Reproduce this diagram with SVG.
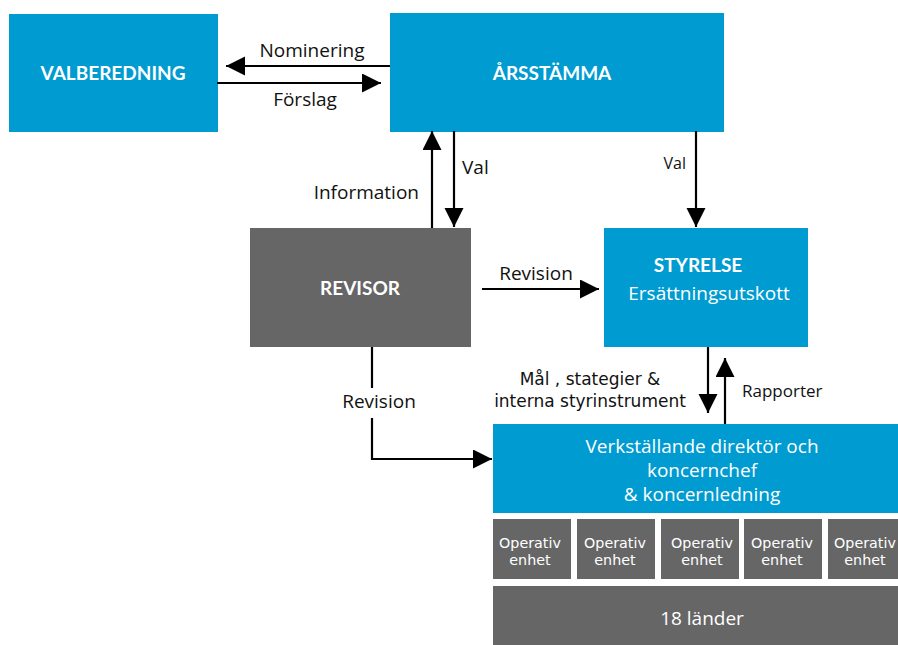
<svg xmlns="http://www.w3.org/2000/svg" width="898" height="645" viewBox="0 0 898 645">
<style>
.blue{fill:#009bd0}
.gray{fill:#666666}
.title{font-family:Lato,"Open Sans","Liberation Sans",sans-serif;font-weight:bold;font-size:19px;fill:#ffffff;text-anchor:middle}
.wt{font-family:"Open Sans",Lato,"Liberation Sans",sans-serif;font-size:19px;fill:#ffffff;text-anchor:middle}
.small{font-family:"DejaVu Sans","Open Sans","Liberation Sans",sans-serif;font-size:14.3px;fill:#ffffff;text-anchor:middle}
.lbl{font-family:"Open Sans",Lato,"Liberation Sans",sans-serif;font-size:19px;fill:#111111}
.lbl2{font-family:"DejaVu Sans","Open Sans","Liberation Sans",sans-serif;font-size:17px;fill:#111111;text-anchor:middle}
.con{stroke:#000000;stroke-width:2.2;fill:none}
</style>
<defs>
<marker id="ah" markerUnits="userSpaceOnUse" markerWidth="20" markerHeight="20" refX="19" refY="9.5" orient="auto">
<path d="M0,0 L19,9.5 L0,19 Z" fill="#000000"/>
</marker>
</defs>
<g id="valberedning">
<rect class="blue" x="9" y="14" width="209" height="118"/>
<text class="title" x="113" y="80">VALBEREDNING</text>
</g>
<g id="arsstamma">
<rect class="blue" x="390" y="13" width="334" height="119"/>
<text class="title" x="552" y="80">ÅRSSTÄMMA</text>
</g>
<g id="revisor">
<rect class="gray" x="250" y="228" width="221" height="119"/>
<text class="title" x="360" y="295">REVISOR</text>
</g>
<g id="styrelse">
<rect class="blue" x="604" y="228" width="204" height="119"/>
<text class="title" x="698" y="272">STYRELSE</text>
<text class="wt" x="709" y="300">Ersättningsutskott</text>
</g>
<g id="vd">
<rect class="blue" x="493" y="424" width="405" height="89"/>
<text class="wt" x="702" y="453">Verkställande direktör och<tspan x="702" dy="24">koncernchef</tspan><tspan x="702" dy="24">&amp; koncernledning</tspan></text>
</g>
<g id="operativ1">
<rect class="gray" x="493" y="519" width="78" height="60"/>
<text class="small" x="530" y="548">Operativ<tspan x="530" dy="17">enhet</tspan></text>
</g>
<g id="operativ2">
<rect class="gray" x="577" y="519" width="78" height="60"/>
<text class="small" x="615" y="548">Operativ<tspan x="615" dy="17">enhet</tspan></text>
</g>
<g id="operativ3">
<rect class="gray" x="661" y="519" width="78" height="60"/>
<text class="small" x="702" y="548">Operativ<tspan x="702" dy="17">enhet</tspan></text>
</g>
<g id="operativ4">
<rect class="gray" x="744" y="519" width="78" height="60"/>
<text class="small" x="782" y="548">Operativ<tspan x="782" dy="17">enhet</tspan></text>
</g>
<g id="operativ5">
<rect class="gray" x="828" y="519" width="78" height="60"/>
<text class="small" x="865" y="548">Operativ<tspan x="865" dy="17">enhet</tspan></text>
</g>
<g id="lander">
<rect class="gray" x="493" y="586" width="405" height="59"/>
<text class="wt" x="702" y="625">18 länder</text>
</g>
<g id="connectors">
<line class="con" x1="390" y1="66" x2="226" y2="66" marker-end="url(#ah)"/>
<line class="con" x1="217" y1="83" x2="381" y2="83" marker-end="url(#ah)"/>
<line class="con" x1="432" y1="228" x2="432" y2="131" marker-end="url(#ah)"/>
<line class="con" x1="454" y1="131" x2="454" y2="227" marker-end="url(#ah)"/>
<line class="con" x1="696" y1="131" x2="696" y2="227" marker-end="url(#ah)"/>
<line class="con" x1="482" y1="289" x2="599" y2="289" marker-end="url(#ah)"/>
<line class="con" x1="708" y1="347" x2="708" y2="413" marker-end="url(#ah)"/>
<line class="con" x1="725" y1="424" x2="725" y2="358" marker-end="url(#ah)"/>
<line class="con" x1="372" y1="347" x2="372" y2="388"/>
<polyline class="con" points="372,418 372,459 492,459" marker-end="url(#ah)"/>
<text class="lbl" x="312" y="57" text-anchor="middle">Nominering</text>
<text class="lbl" x="305" y="106" text-anchor="middle">Förslag</text>
<text class="lbl" x="419" y="199" text-anchor="end">Information</text>
<text class="lbl" x="462" y="174">Val</text>
<text class="lbl" x="686" y="169" text-anchor="end" style="font-size:16px">Val</text>
<text class="lbl" x="536" y="280" text-anchor="middle">Revision</text>
<text class="lbl" x="379" y="408" text-anchor="middle">Revision</text>
<text class="lbl2" x="590" y="385">Mål , stategier &amp;<tspan x="590" dy="22">interna styrinstrument</tspan></text>
<text class="lbl" x="742" y="397" style="font-size:17px">Rapporter</text>
</g>
</svg>
